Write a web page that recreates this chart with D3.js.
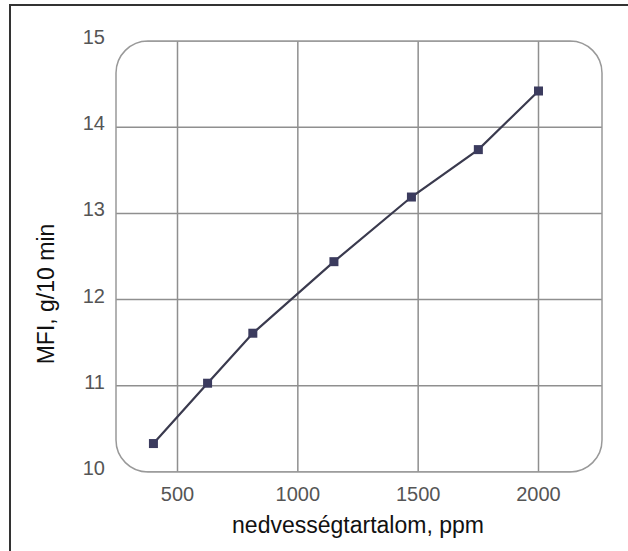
<!DOCTYPE html>
<html>
<head>
<meta charset="utf-8">
<script src="https://cdn.jsdelivr.net/npm/d3@7"></script>
<style>
  html, body { margin: 0; padding: 0; background: #fff; }
  svg { display: block; }
</style>
</head>
<body>
<svg id="chart"></svg>
<script>
  // Data
  const moisture = [400, 625, 813, 1150, 1472, 1750, 2000];   // ppm
  const mfi = [10.33, 11.03, 11.61, 12.44, 13.19, 13.74, 14.42]; // g/10 min
  const xTicks = [500, 1000, 1500, 2000];
  const yTicks = [10, 11, 12, 13, 14, 15];

  // Config
  const width = 628;
  const height = 551;
  const box = { left: 116, right: 602, top: 41, bottom: 472 };

  const svg = d3.select("#chart")
    .attr("width", width)
    .attr("height", height);

  // Scales (grid at 500 -> 177, 2000 -> 538)
  const x = d3.scaleLinear().domain([500, 2000]).range([177.5, 538.5]);
  const y = d3.scaleLinear().domain([10, 15]).range([box.bottom, box.top]);

  // Outer frame: only top and left edges are visible
  svg.append("path")
    .attr("d", `M10,${height} L10,5 L${width},5`)
    .attr("fill", "none")
    .attr("stroke", "#333")
    .attr("stroke-width", 2);

  // Grid
  const clipId = "plot-clip";
  svg.append("defs").append("clipPath")
    .attr("id", clipId)
    .append("rect")
    .attr("x", box.left)
    .attr("y", box.top)
    .attr("width", box.right - box.left)
    .attr("height", box.bottom - box.top)
    .attr("rx", 32).attr("ry", 32);

  const grid = svg.append("g").attr("clip-path", `url(#${clipId})`);

  grid.selectAll(".vgrid")
    .data(xTicks)
    .join("line")
    .attr("class", "vgrid")
    .attr("x1", d => x(d)).attr("x2", d => x(d))
    .attr("y1", box.top).attr("y2", box.bottom)
    .attr("stroke", "#8f8f8f")
    .attr("stroke-width", 1.5);

  grid.selectAll(".hgrid")
    .data(yTicks)
    .join("line")
    .attr("class", "hgrid")
    .attr("x1", box.left).attr("x2", box.right)
    .attr("y1", d => y(d)).attr("y2", d => y(d))
    .attr("stroke", "#8f8f8f")
    .attr("stroke-width", 1.5);

  // Rounded plot box
  svg.append("rect")
    .attr("x", box.left)
    .attr("y", box.top)
    .attr("width", box.right - box.left)
    .attr("height", box.bottom - box.top)
    .attr("rx", 32).attr("ry", 32)
    .attr("fill", "none")
    .attr("stroke", "#999")
    .attr("stroke-width", 1.5);

  // Tick labels
  svg.selectAll(".xlab")
    .data(xTicks)
    .join("text")
    .attr("class", "xlab")
    .attr("x", d => x(d))
    .attr("y", 501)
    .attr("text-anchor", "middle")
    .attr("font-family", "Liberation Sans, Arial, sans-serif")
    .attr("font-size", 20)
    .attr("fill", "#555")
    .text(d => d);

  svg.selectAll(".ylab")
    .data(yTicks)
    .join("text")
    .attr("class", "ylab")
    .attr("x", 105)
    .attr("y", d => y(d) - 4)
    .attr("dy", "0.35em")
    .attr("text-anchor", "end")
    .attr("font-family", "Liberation Sans, Arial, sans-serif")
    .attr("font-size", 20)
    .attr("fill", "#555")
    .text(d => d);

  // Axis titles
  svg.append("text")
    .attr("x", 358)
    .attr("y", 533)
    .attr("text-anchor", "middle")
    .attr("font-family", "Liberation Sans, Arial, sans-serif")
    .attr("font-size", 23)
    .attr("fill", "#111")
    .text("nedvességtartalom, ppm");

  svg.append("text")
    .attr("transform", "translate(54,294) rotate(-90)")
    .attr("text-anchor", "middle")
    .attr("font-family", "Liberation Sans, Arial, sans-serif")
    .attr("font-size", 23)
    .attr("fill", "#111")
    .text("MFI, g/10 min");

  // Line + markers
  const points = moisture.map((m, i) => ({ m, v: mfi[i] }));

  const line = d3.line()
    .x(d => x(d.m))
    .y(d => y(d.v));

  svg.append("path")
    .datum(points)
    .attr("d", line)
    .attr("fill", "none")
    .attr("stroke", "#3a3a4e")
    .attr("stroke-width", 2.2);

  const ms = 9;
  svg.selectAll(".marker")
    .data(points)
    .join("rect")
    .attr("class", "marker")
    .attr("x", d => x(d.m) - ms / 2)
    .attr("y", d => y(d.v) - ms / 2)
    .attr("width", ms)
    .attr("height", ms)
    .attr("fill", "#3b3b5e");
</script>
</body>
</html>
